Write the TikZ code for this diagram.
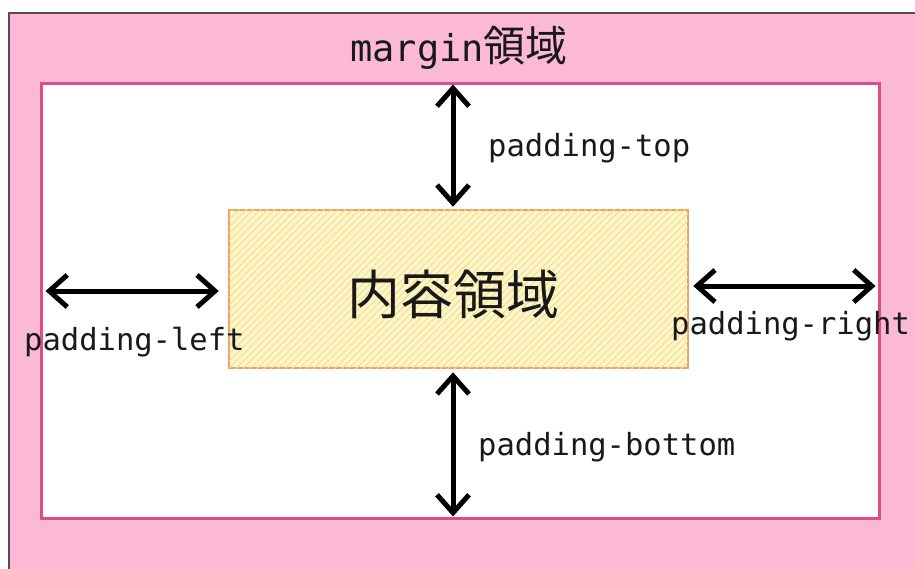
\documentclass[tikz,border=0pt]{standalone}
\usepackage{fontspec}
\setmonofont{DejaVu Sans Mono}
\newfontfamily\cjk{Noto Sans CJK JP}
\usetikzlibrary{arrows.meta, patterns.meta}
\definecolor{margpink}{HTML}{FBB9D6}
\definecolor{outeredge}{HTML}{5A4A52}
\definecolor{padedge}{HTML}{E24C86}
\definecolor{boxfill}{HTML}{FFF6CC}
\definecolor{hatch}{HTML}{F6DD8A}
\definecolor{boxedge}{HTML}{EBA064}
\tikzset{margbox/.style = {draw=outeredge, line width=1.2pt, fill=margpink, minimum width=916pt, minimum height=567pt}}
\tikzset{padbox/.style = {draw=padedge, line width=3pt, fill=white, minimum width=838pt, minimum height=434pt}}
\tikzset{contbox/.style = {draw=boxedge, line width=2.5pt, fill=boxfill, postaction={pattern={Lines[angle=45, distance=5pt, line width=1pt]}, pattern color=hatch}, minimum width=459pt, minimum height=158pt}}
\tikzset{padlabel/.style = {font=\ttfamily\fontsize{30.5}{30.5}\selectfont, text=black!90, inner sep=0pt, anchor=west}}
\tikzset{dimarrow/.style = {line width=5pt, {Straight Barb[length=18pt, width=32pt]}-{Straight Barb[length=18pt, width=32pt]}}}

\begin{document}
\begin{tikzpicture}[x=1pt, y=-1pt]
\useasboundingbox (0,0) rectangle (915,569);
\clip (0,0) rectangle (915,569);
\node[margbox] (marg) at (467,296.5) {};
\node[padbox] (pad) at (460,301) {};
\node[contbox] (cont) at (458.5,289) {};
\node[font=\cjk\fontsize{53}{53}\selectfont, text=black!90, inner sep=0pt] (ctext) at (453,294) {内容領域};
\node[font=\ttfamily\fontsize{37}{37}\selectfont, text=black!90, inner sep=0pt] (mtitle) at (459,48) {margin{\cjk\fontsize{42}{42}\selectfont 領域}};
\coordinate (vx) at (453,0);
\coordinate (lx) at (0,291);
\coordinate (rx) at (0,286);
\draw[dimarrow, shorten <=2pt, shorten >=2pt] (pad.north -| vx) -- (cont.north -| vx);
\draw[dimarrow, shorten <=3pt, shorten >=3pt] (cont.south -| vx) -- (pad.south -| vx);
\draw[dimarrow, shorten <=6pt, shorten >=9pt] (pad.west |- lx) -- (cont.west |- lx);
\draw[dimarrow, shorten <=4pt, shorten >=5pt] (cont.east |- rx) -- (pad.east |- rx);
\node[padlabel] (ptop) at (488,148) {padding-top};
\node[padlabel] (pleft) at (24,342) {padding-left};
\node[padlabel] (pright) at (671,326) {padding-right};
\node[padlabel] (pbottom) at (478,447) {padding-bottom};
\end{tikzpicture}
\end{document}
